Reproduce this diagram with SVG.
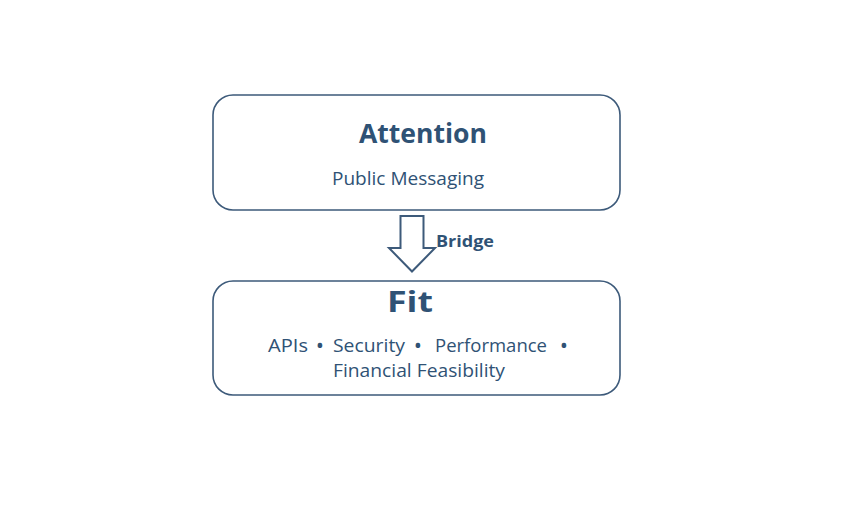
<svg xmlns="http://www.w3.org/2000/svg" width="847" height="508" viewBox="0 0 847 508">
<style>
.box{fill:#fff;stroke:#3d5a7a;stroke-width:1.6}
.t{fill:#2f5275;font-family:"Open Sans","Liberation Sans",sans-serif}
.h{font-weight:bold}
.b{font-size:22px;text-anchor:middle}
</style>
<rect width="847" height="508" fill="#fff"/>
<g id="attention">
<rect class="box" x="213" y="95" width="407" height="115" rx="20"/>
<text class="t h" x="359" y="143" font-size="26.5" textLength="128" lengthAdjust="spacingAndGlyphs">Attention</text>
<text class="t" x="332" y="185" font-size="19" textLength="152" lengthAdjust="spacingAndGlyphs">Public Messaging</text>
</g>
<g id="connectors">
<path d="M400.5,216 L423.5,216 L423.5,248 L435,248 L412,271.5 L389,248 L400.5,248 Z" fill="#fff" stroke="#3d5a7a" stroke-width="2"/>
<text class="t h" x="436" y="246.5" font-size="15.5" textLength="58" lengthAdjust="spacingAndGlyphs">Bridge</text>
</g>
<g id="fit">
<rect class="box" x="213" y="281" width="407" height="114" rx="20"/>
<text class="t h" x="387" y="312" font-size="28" textLength="46" lengthAdjust="spacingAndGlyphs">Fit</text>
<text class="t" x="268" y="352" font-size="17.5" textLength="40" lengthAdjust="spacingAndGlyphs">APIs</text>
<text class="t b" x="320" y="353">•</text>
<text class="t" x="333" y="352" font-size="17.5" textLength="72" lengthAdjust="spacingAndGlyphs">Security</text>
<text class="t b" x="418" y="353">•</text>
<text class="t" x="435" y="352" font-size="17.5" textLength="112" lengthAdjust="spacingAndGlyphs">Performance</text>
<text class="t b" x="564" y="353">•</text>
<text class="t" x="333" y="377" font-size="17.5" textLength="172" lengthAdjust="spacingAndGlyphs">Financial Feasibility</text>
</g>
</svg>
